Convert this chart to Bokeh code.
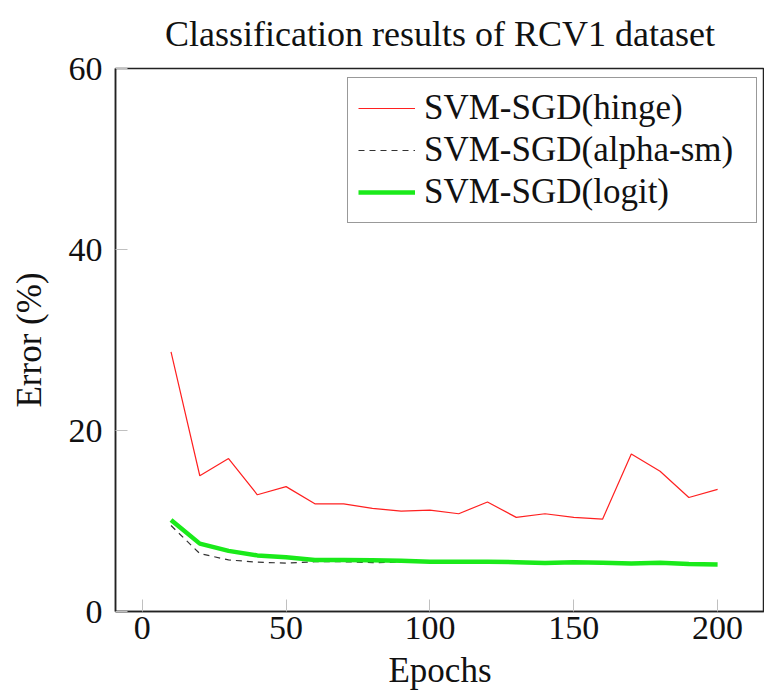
from bokeh.plotting import figure
from bokeh.models import Range1d, FixedTicker, Legend, LegendItem
from bokeh.embed import file_html
from bokeh.resources import INLINE

# ---- data ----
epochs = [10, 20, 30, 40, 50, 60, 70, 80, 90, 100,
          110, 120, 130, 140, 150, 160, 170, 180, 190, 200]
hinge = [28.7, 15.0, 16.9, 12.9, 13.8, 11.9, 11.9, 11.4, 11.1, 11.2,
         10.8, 12.1, 10.4, 10.8, 10.4, 10.2, 17.4, 15.5, 12.6, 13.5]
alpha_sm = [9.5, 6.4, 5.7, 5.45, 5.35, 5.5, 5.5, 5.4, 5.45, 5.45,
            5.45, 5.45, 5.4, 5.3, 5.4, 5.35, 5.25, 5.35, 5.2, 5.15]
logit = [10.1, 7.5, 6.7, 6.2, 6.0, 5.7, 5.7, 5.65, 5.6, 5.5,
         5.5, 5.5, 5.45, 5.35, 5.45, 5.4, 5.3, 5.4, 5.25, 5.2]
labels = ["SVM-SGD(hinge)", "SVM-SGD(alpha-sm)", "SVM-SGD(logit)"]
x_ticks = [0, 50, 100, 150, 200]
y_ticks = [0, 20, 40, 60]
title_text = "Classification results of RCV1 dataset"
x_label = "Epochs"
y_label = "Error (%)"

FONT = "Liberation Serif"

p = figure(width=764, height=697, output_backend="svg", toolbar_location=None,
           x_range=Range1d(-9.3, 216.3), y_range=Range1d(0, 60),
           min_border_left=115, min_border_right=0, min_border_top=67,
           min_border_bottom=86)

p.title.text = title_text
p.title.text_font = FONT
p.title.text_font_size = "36px"
p.title.text_font_style = "normal"
p.title.align = "center"
p.title.vertical_align = "top"
p.title.text_color = "#111111"
p.title.standoff = 26

p.grid.visible = False
p.outline_line_color = "#222222"
p.outline_line_width = 1.5
p.background_fill_color = "white"
p.border_fill_color = "white"

for ax, ticks in ((p.xaxis[0], x_ticks), (p.yaxis[0], y_ticks)):
    ax.ticker = FixedTicker(ticks=ticks)
    ax.major_label_text_font = FONT
    ax.major_label_text_font_size = "34px"
    ax.major_label_text_color = "#111111"
    ax.axis_label_text_font = FONT
    ax.axis_label_text_font_size = "35px"
    ax.axis_label_text_font_style = "normal"
    ax.axis_label_text_color = "#111111"
    ax.major_tick_in = 12
    ax.major_tick_out = 0
    ax.major_tick_line_color = "#c0c0c0"
    ax.minor_tick_line_color = None
    ax.axis_line_color = "#222222"
    ax.axis_line_width = 1.5

p.xaxis[0].axis_label = x_label
p.yaxis[0].axis_label = y_label
p.xaxis[0].major_label_standoff = 5
p.xaxis[0].axis_label_standoff = 9
p.yaxis[0].major_label_standoff = 13
p.yaxis[0].axis_label_standoff = 17

r_hinge = p.line(epochs, hinge, line_color="#ff2020", line_width=1.2)
r_alpha = p.line(epochs, alpha_sm, line_color="#333333", line_width=1.2, line_dash="6 5")
r_logit = p.line(epochs, logit, line_color="#1aea1a", line_width=4.5)

legend = Legend(items=[LegendItem(label=labels[0], renderers=[r_hinge]),
                       LegendItem(label=labels[1], renderers=[r_alpha]),
                       LegendItem(label=labels[2], renderers=[r_logit])],
                location=(232, 388))
legend.label_text_font = FONT
legend.label_text_font_size = "35px"
legend.label_text_color = "#111111"
legend.border_line_color = "#333333"
legend.border_line_width = 1.2
legend.padding = 10
legend.spacing = 2
legend.label_height = 40
legend.glyph_height = 40
legend.glyph_width = 57
legend.label_width = 322
legend.label_standoff = 9
legend.background_fill_alpha = 1
p.add_layout(legend)

open("out.html", "w").write(file_html(p, INLINE))
